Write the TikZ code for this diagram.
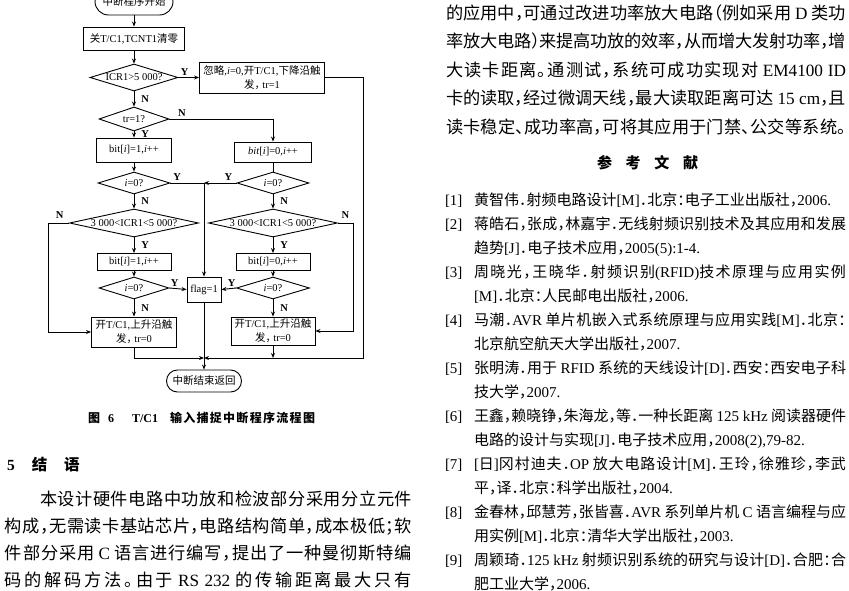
\documentclass[tikz,border=0pt]{standalone}
\usepackage{fontspec}
\setmainfont{Liberation Serif}
\newfontfamily\cjk{Noto Sans CJK SC}[RawFeature=+halt]
\usetikzlibrary{shapes.geometric,shapes.misc,arrows.meta}
\XeTeXinterchartokenstate=1
\newcount\cjkc
\cjkc="3000
\loop\ifnum\cjkc<"A000 \XeTeXcharclass\cjkc=7 \advance\cjkc by 1 \repeat
\cjkc="FF00
\loop\ifnum\cjkc<"FFF0 \XeTeXcharclass\cjkc=7 \advance\cjkc by 1 \repeat
\XeTeXinterchartoks 7 7 = {\hskip 0pt plus 0.3em minus 0.08em\relax}
\newcommand\latn{\rmfamily}
\newcommand\jst[2]{\makebox[#1pt][s]{#2}}
\newcommand\ffont{\fontsize{10.5}{14}\selectfont}
\newcommand\bodyf{\cjk\fontsize{17.2}{20}\selectfont}
\newcommand\reff{\cjk\fontsize{15}{18}\selectfont}
\begin{document}
\begin{tikzpicture}[x=1pt,y=-1pt,
  ln/.style={line width=0.9pt},
  arr/.style={ln,-{Stealth[length=5pt,width=4pt]}},
  box/.style 2 args={draw,ln,rectangle,minimum width=#1pt,minimum height=#2pt,inner sep=1pt,align=center,font=\ffont},
  dia/.style n args={3}{draw,ln,diamond,minimum width=#1pt,minimum height=#2pt,aspect=#3,inner sep=0pt,font=\ffont},
  term/.style 2 args={draw,ln,rounded rectangle,minimum width=#1pt,minimum height=#2pt,inner sep=1pt,font=\ffont},
  yn/.style={font=\fontsize{10.5}{10.5}\selectfont\bfseries,inner sep=0pt},
  txt/.style={anchor=base west,inner sep=0pt,outer sep=0pt}]
\fill[white] (0,0) rectangle (849,591);
\useasboundingbox (0,0) rectangle (849,591);

% ---------- flowchart ----------
\node[term={80}{27}] (T0) at (134,1.5) {{\cjk 中断程序开始}};
\node[box={101}{23}] (B1) at (134,38.5) {{\cjk 关}T/C1,TCNT1{\cjk 清零}};
\node[dia={88}{27}{3.0}] (D1) at (134,77.5) {ICR1>5 000?};
\node[box={125}{31}] (B2) at (262,77.5) {{\cjk 忽略},\textit{i}=0,{\cjk 开}T/C1,{\cjk 下降沿触}\\{\cjk 发，} tr=1};
\node[dia={70}{24}{2.9}] (D2) at (134,119) {tr=1?};
\node[box={75}{24}] (B3) at (134,150) {bit[\textit{i}]=1,\textit{i}++};
\node[box={77}{20}] (B4) at (273,152) {\textit{bit}[\textit{i}]=0,\textit{i}++};
\node[dia={72}{22}{3.3}] (D3) at (134,183) {\textit{i}=0?};
\node[dia={72}{22}{3.3}] (D4) at (273,183) {\textit{i}=0?};
\node[dia={129}{28}{4.6}] (D5) at (134,223) {3 000<ICR1<5 000?};
\node[dia={129}{28}{4.6}] (D6) at (273,223) {3 000<ICR1<5 000?};
\node[box={74}{17}] (B5) at (134,262) {bit[\textit{i}]=1,\textit{i}++};
\node[box={74}{17}] (B6) at (273,262) {bit[\textit{i}]=0,\textit{i}++};
\node[dia={70}{22}{3.2}] (D7) at (134,288) {\textit{i}=0?};
\node[box={34}{25}] (F) at (204,289.5) {flag=1};
\node[dia={73}{22}{3.3}] (D8) at (273,288) {\textit{i}=0?};
\node[box={85}{30}] (B7) at (134,332) {{\cjk 开}T/C1,{\cjk 上升沿触}\\{\cjk 发，} tr=0};
\node[box={84}{28}] (B8) at (273,331) {{\cjk 开}T/C1,{\cjk 上升沿触}\\{\cjk 发，} tr=0};
\node[term={77}{22}] (E) at (204,381) {{\cjk 中断结束返回}};

\coordinate (J1) at (204,183);
\coordinate (L1) at (48,223);
\coordinate (L2) at (48,332);
\coordinate (R1) at (353,223);
\coordinate (R2) at (353,331);
\coordinate (RT) at (363,77.5);
\coordinate (RB) at (363,358);
\coordinate (M) at (204,358);

\draw[arr] (T0.south) -- (B1.north);
\draw[arr] (B1.south) -- (D1.north);
\draw[arr] (D1.east) -- (B2.west) node[yn,pos=0.3,above=2pt]{Y};
\draw[arr] (B2.east) -- (RT) -- (RB) -- (M);
\draw[arr] (D1.south) -- (D2.north) node[yn,midway,right=7pt]{N};
\draw[arr] (D2.east) -| (B4.north) node[yn,pos=0.06,above=2pt]{N};
\draw[arr] (D2.south) -- (B3.north) node[yn,midway,right=7pt]{Y};
\draw[arr] (B3.south) -- (D3.north);
\draw[ln] (B4.south) -- (D4.north);
\draw[ln] (D3.east) -- (J1) node[yn,pos=0.2,above=2pt]{Y};
\draw[arr] (D4.west) -- (J1) node[yn,pos=0.25,above=2pt]{Y};
\draw[arr] (J1) -- (F.north);
\draw[arr] (D3.south) -- (D5.north) node[yn,midway,right=7pt]{N};
\draw[arr] (D4.south) -- (D6.north) node[yn,midway,right=7pt]{N};
\draw[arr] (D5.west) -- (L1) node[yn,pos=0.45,above=4pt]{N} -- (L2) -- (B7.west);
\draw[arr] (D6.east) -- (R1) node[yn,pos=0.5,above=4pt]{N} -- (R2) -- (B8.east);
\draw[arr] (D5.south) -- (B5.north) node[yn,midway,right=7pt]{Y};
\draw[arr] (D6.south) -- (B6.north) node[yn,midway,right=7pt]{Y};
\draw[arr] (B5.south) -- (D7.north);
\draw[arr] (B6.south) -- (D8.north);
\draw[arr] (D7.east) -- (F.west) node[yn,pos=0.3,above=2pt]{Y};
\draw[arr] (D8.west) -- (F.east) node[yn,pos=0.3,above=2pt]{Y};
\draw[arr] (D7.south) -- (B7.north) node[yn,midway,right=7pt]{N};
\draw[arr] (D8.south) -- (B8.north) node[yn,midway,right=7pt]{N};
\draw[arr] (B7.south) |- (M);
\draw[arr] (B8.south) -- (B8.south |- M);
\draw[arr] (F.south) -- (E.north);

% caption
\node[txt,font=\cjk\fontsize{12}{14}\selectfont] (cap) at (88,422.6)
  {{\bfseries 图}\hspace{8pt}{\latn\bfseries 6}\hspace{18pt}{\latn\bfseries T/C1}\hspace{12pt}{\bfseries\jst{145}{输入捕捉中断程序流程图}}};

% ---------- left column text ----------
\node[txt,font=\cjk\fontsize{15.5}{18}\selectfont] (h5) at (7,470)
  {{\latn\bfseries 5}\hspace{17pt}{\bfseries 结}\hspace{17pt}{\bfseries 语}};
\node[txt,font=\bodyf] (l1) at (40,505.5) {\jst{372}{本设计硬件电路中功放和检波部分采用分立元件}};
\node[txt,font=\bodyf] (l2) at (5,532.5) {\jst{407}{构成，无需读卡基站芯片，电路结构简单，成本极低；软}};
\node[txt,font=\bodyf] (l3) at (5,559.5) {\jst{407}{件部分采用 {\latn C} 语言进行编写，提出了一种曼彻斯特编}};
\node[txt,font=\bodyf] (l4) at (5,586.5) {\jst{407}{码的解码方法。由于 {\latn RS 232} 的传输距离最大只有}};

% ---------- right column text ----------
\node[txt,font=\bodyf] (p1) at (446,19.5) {\jst{400}{的应用中，可通过改进功率放大电路（例如采用 {\latn D} 类功}};
\node[txt,font=\bodyf] (p2) at (446,48) {\jst{400}{率放大电路）来提高功放的效率，从而增大发射功率，增}};
\node[txt,font=\bodyf] (p3) at (446,76.5) {\jst{400}{大读卡距离。通测试，系统可成功实现对 {\latn EM4100 ID}}};
\node[txt,font=\bodyf] (p4) at (446,105) {\jst{400}{卡的读取，经过微调天线，最大读取距离可达 {\latn 15 cm}，且}};
\node[txt,font=\bodyf] (p5) at (446,133.5) {\jst{400}{读卡稳定、成功率高，可将其应用于门禁、公交等系统。}};

\node[txt,font=\cjk\fontsize{15}{18}\selectfont] (rh) at (597,168.7) {\bfseries\jst{101}{参考文献}};

\node[txt,font=\reff] (n1) at (445,205.7) {{\latn [1]}};
\node[txt,font=\reff] (r1) at (474,205.7) {黄智伟．射频电路设计{\latn [M]}．北京：电子工业出版社，{\latn 2006.}};
\node[txt,font=\reff] (n2) at (445,229.7) {{\latn [2]}};
\node[txt,font=\reff] (r2) at (474,229.7) {\jst{372}{蒋皓石，张成，林嘉宇．无线射频识别技术及其应用和发展}};
\node[txt,font=\reff] (r2b) at (474,253.7) {趋势{\latn [J]}．电子技术应用，{\latn 2005(5):1-4.}};
\node[txt,font=\reff] (n3) at (445,277.7) {{\latn [3]}};
\node[txt,font=\reff] (r3) at (474,277.7) {\jst{372}{周晓光，王晓华．射频识别{\latn (RFID)}技术原理与应用实例}};
\node[txt,font=\reff] (r3b) at (474,301.7) {{\latn [M]}．北京：人民邮电出版社，{\latn 2006.}};
\node[txt,font=\reff] (n4) at (445,325.7) {{\latn [4]}};
\node[txt,font=\reff] (r4) at (474,325.7) {\jst{372}{马潮．{\latn AVR} 单片机嵌入式系统原理与应用实践{\latn [M]}．北京：}};
\node[txt,font=\reff] (r4b) at (474,349.7) {北京航空航天大学出版社，{\latn 2007.}};
\node[txt,font=\reff] (n5) at (445,373.7) {{\latn [5]}};
\node[txt,font=\reff] (r5) at (474,373.7) {\jst{372}{张明涛．用于 {\latn RFID} 系统的天线设计{\latn [D]}．西安：西安电子科}};
\node[txt,font=\reff] (r5b) at (474,397.7) {技大学，{\latn 2007.}};
\node[txt,font=\reff] (n6) at (445,421.7) {{\latn [6]}};
\node[txt,font=\reff] (r6) at (474,421.7) {\jst{372}{王鑫，赖晓铮，朱海龙，等．一种长距离 {\latn 125 kHz} 阅读器硬件}};
\node[txt,font=\reff] (r6b) at (474,445.7) {电路的设计与实现{\latn [J]}．电子技术应用，{\latn 2008(2),79-82.}};
\node[txt,font=\reff] (n7) at (445,469.7) {{\latn [7]}};
\node[txt,font=\reff] (r7) at (474,469.7) {\jst{372}{{\latn [}日{\latn ]}冈村迪夫．{\latn OP} 放大电路设计{\latn [M]}．王玲，徐雅珍，李武}};
\node[txt,font=\reff] (r7b) at (474,493.7) {平，译．北京：科学出版社，{\latn 2004.}};
\node[txt,font=\reff] (n8) at (445,517.7) {{\latn [8]}};
\node[txt,font=\reff] (r8) at (474,517.7) {\jst{372}{金春林，邱慧芳，张皆喜．{\latn AVR} 系列单片机 {\latn C} 语言编程与应}};
\node[txt,font=\reff] (r8b) at (474,541.7) {用实例{\latn [M]}．北京：清华大学出版社，{\latn 2003.}};
\node[txt,font=\reff] (n9) at (445,565.7) {{\latn [9]}};
\node[txt,font=\reff] (r9) at (474,565.7) {\jst{372}{周颖琦．{\latn 125 kHz} 射频识别系统的研究与设计{\latn [D]}．合肥：合}};
\node[txt,font=\reff] (r9b) at (474,589.7) {肥工业大学，{\latn 2006.}};
\end{tikzpicture}
\end{document}
